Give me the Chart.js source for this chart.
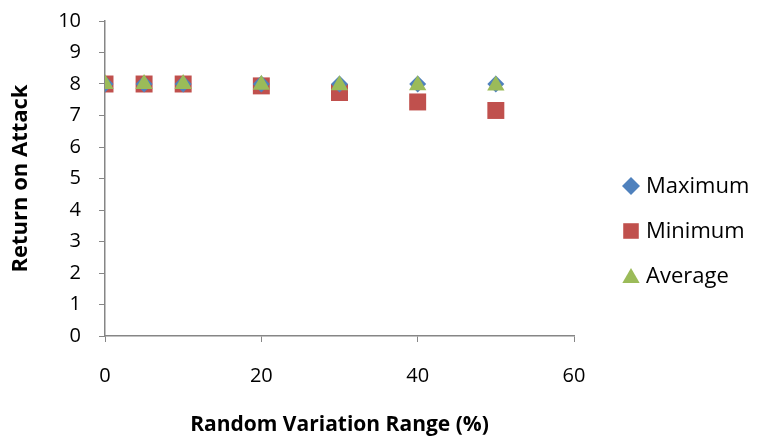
<!DOCTYPE html>
<html>
<head>
<meta charset="utf-8">
<script src="https://cdn.jsdelivr.net/npm/chart.js@4/dist/chart.umd.min.js"></script>
<style>
  html, body { margin: 0; padding: 0; background: #fff; }
  #wrap { width: 759px; height: 441px; }
</style>
</head>
<body>
<div id="wrap"><canvas id="chart" width="759" height="441"></canvas></div>
<script>
var variation = [0, 5, 10, 20, 30, 40, 50];
var maximum = [8.0, 8.0, 8.0, 8.0, 8.0, 8.0, 8.0];
var minimum = [8.0, 8.0, 8.0, 7.94, 7.73, 7.43, 7.16];
var average = [8.0, 8.0, 8.0, 7.98, 7.96, 7.96, 7.95];
var yTicks = [0, 1, 2, 3, 4, 5, 6, 7, 8, 9, 10];
var xTicks = [0, 20, 40, 60];

var FONT = "'Open Sans', 'Liberation Sans', sans-serif";
var AXIS = "#868686";

function pts(ys) {
  return variation.map(function (x, i) { return { x: x, y: ys[i] }; });
}

// legend drawn beside the plot, Excel style
var sideLegend = {
  id: "sideLegend",
  afterDraw: function (chart) {
    var c = chart.ctx;
    var sets = chart.data.datasets;
    var x0 = chart.chartArea.right + 57;
    var y0 = 186;
    c.save();
    c.font = "22px " + FONT;
    c.textBaseline = "middle";
    for (var i = 0; i < sets.length; i++) {
      var y = y0 + i * 45;
      var r = { rectRot: 9, rect: 11, triangle: 10 }[sets[i].pointStyle];
      c.fillStyle = sets[i].backgroundColor;
      Chart.helpers.drawPoint(c, { pointStyle: sets[i].pointStyle, radius: r, rotation: 0, borderWidth: 0 }, x0, y + (sets[i].pointStyle === "triangle" ? 2 : 0));
      c.fillStyle = "#000";
      c.fillText(sets[i].label, x0 + 15, y + 1);
    }
    c.restore();
  }
};

new Chart(document.getElementById("chart"), {
  type: "scatter",
  data: {
    datasets: [
      { label: "Maximum", data: pts(maximum), pointStyle: "rectRot", pointRadius: 8.5, pointHoverRadius: 8.5,
        backgroundColor: "#4F81BD", borderColor: "#4F81BD", borderWidth: 0, order: 1 },
      { label: "Minimum", data: pts(minimum), pointStyle: "rect", pointRadius: 12, pointHoverRadius: 12,
        backgroundColor: "#C0504D", borderColor: "#C0504D", borderWidth: 0, order: 2 },
      { label: "Average", data: pts(average), pointStyle: "triangle", pointRadius: 10, pointHoverRadius: 10,
        backgroundColor: "#9BBB59", borderColor: "#9BBB59", borderWidth: 0, order: 0 }
    ]
  },
  options: {
    responsive: false,
    animation: false,
    layout: { padding: { top: 21, right: 185, left: 0, bottom: 0 } },
    plugins: { legend: { display: false }, tooltip: { enabled: false } },
    scales: {
      x: {
        type: "linear", min: 0, max: 60,
        afterBuildTicks: function (s) { s.ticks = xTicks.map(function (v) { return { value: v }; }); },
        afterFit: function (s) { s.height = 105; s.paddingLeft = 0; s.paddingRight = 0; },
        grid: { drawOnChartArea: false, drawTicks: true, tickLength: 6, color: AXIS },
        border: { color: AXIS, width: 1.5 },
        ticks: { font: { family: FONT, size: 20 }, color: "#000", padding: 22, maxRotation: 0 },
        title: { display: true, text: "Random Variation Range (%)", color: "#000",
                 font: { family: FONT, size: 21, weight: "bold" }, padding: { top: 14, bottom: 3 } }
      },
      y: {
        type: "linear", min: 0, max: 10,
        afterBuildTicks: function (s) { s.ticks = yTicks.map(function (v) { return { value: v }; }); },
        afterFit: function (s) { s.width = 105; s.paddingTop = 0; s.paddingBottom = 0; },
        grid: { drawOnChartArea: false, drawTicks: true, tickLength: 6, color: AXIS },
        border: { color: AXIS, width: 1.5 },
        ticks: { font: { family: FONT, size: 20 }, color: "#000", padding: 18 },
        title: { display: true, text: "Return on Attack", color: "#000",
                 font: { family: FONT, size: 22, weight: "bold" }, padding: { top: 8, bottom: 4 } }
      }
    }
  },
  plugins: [sideLegend]
});
</script>
</body>
</html>
